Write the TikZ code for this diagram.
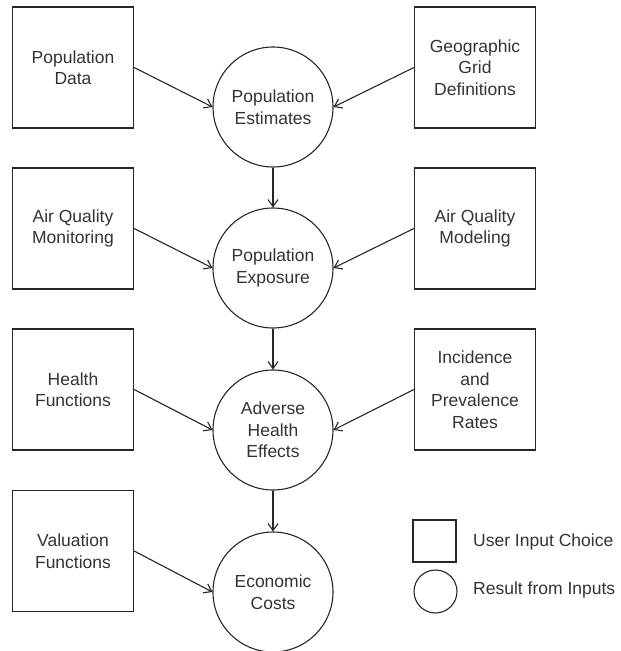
\documentclass[tikz,border=0pt]{standalone}
\usepackage{fontspec}
\setmainfont{Liberation Sans}
\usepackage{tikz}
\usetikzlibrary{arrows.meta}
\tikzset{>={Straight Barb[length=7pt,width=10pt]}}
\tikzset{
  inbox/.style={draw=black!85,line width=1.3pt,minimum width=121pt,minimum height=121pt,align=center,text=black!80},
  outcirc/.style={draw=black!85,line width=1.1pt,circle,minimum size=120pt,inner sep=0pt,align=center,text=black!80},
  flow/.style={->,draw=black!85,line width=1.1pt}
}

\begin{document}
\begin{tikzpicture}[x=1pt,y=-1pt,font=\fontsize{17.5}{21.5}\selectfont]
      \useasboundingbox (0,0) rectangle (621,651);

      % inputs (left column)
      \node[inbox] (popdata)  at (73,67.5)  {Population\\Data};
      \node[inbox] (aqmon)    at (73,228.5) {Air Quality\\Monitoring};
      \node[inbox] (healthfn) at (73,389.5) {Health\\Functions};
      \node[inbox] (valfn)    at (73,551)   {Valuation\\Functions};

      % inputs (right column)
      \node[inbox] (geogrid)  at (475,67.5)  {Geographic\\Grid\\Definitions};
      \node[inbox] (aqmod)    at (475,228.5) {Air Quality\\Modeling};
      \node[inbox] (incrates) at (475,389.5) {Incidence\\and\\Prevalence\\Rates};

      % results
      \node[outcirc] (popest)  at (273,107) {Population\\Estimates};
      \node[outcirc] (popexp)  at (273,268) {Population\\Exposure};
      \node[outcirc] (adverse) at (273,430) {Adverse\\Health\\Effects};
      \node[outcirc] (econ)    at (273,592) {Economic\\Costs};

      \draw[flow] (popdata.east)  -- (popest.west);
      \draw[flow] (geogrid.west)  -- (popest.east);
      \draw[flow] (aqmon.east)    -- (popexp.west);
      \draw[flow] (aqmod.west)    -- (popexp.east);
      \draw[flow] (healthfn.east) -- (adverse.west);
      \draw[flow] (incrates.west) -- (adverse.east);
      \draw[flow] (valfn.east)    -- (econ.west);

      \draw[flow] (popest)  -- (popexp);
      \draw[flow] (popexp)  -- (adverse);
      \draw[flow] (adverse) -- (econ);

      % legend
      \node[inbox,minimum width=43pt,minimum height=42pt] (legbox) at (434.5,541) {};
      \node[outcirc,minimum size=43pt] (legcirc) at (435.5,591.5) {};
      \node[anchor=west,text=black!80,inner sep=0pt] (legboxtxt) at (473,542) {User Input Choice};
      \node[anchor=west,text=black!80,inner sep=0pt] (legcirctxt) at (473,590) {Result from Inputs};
    \end{tikzpicture}
\end{document}
